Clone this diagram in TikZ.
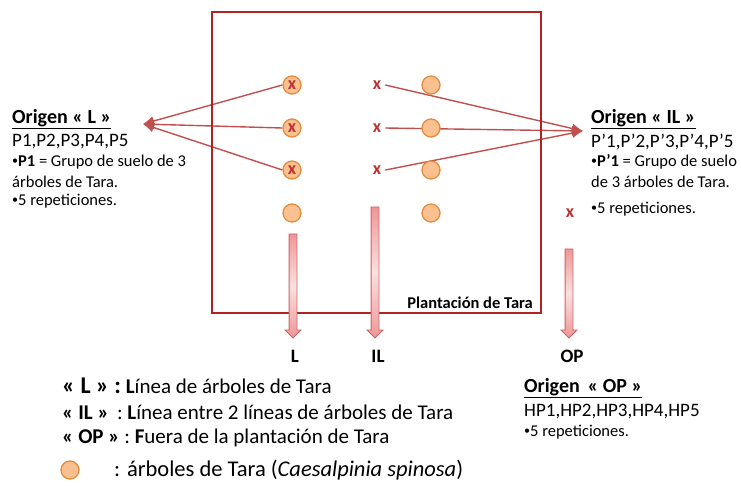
\documentclass[tikz,border=0pt]{standalone}
\usepackage{fontspec}
\setmainfont{Carlito}
\usetikzlibrary{positioning,arrows.meta,shapes.arrows,backgrounds}

\definecolor{plotred}{RGB}{178,34,34}
\definecolor{linkred}{RGB}{192,80,77}
\definecolor{treefill}{RGB}{250,192,144}
\definecolor{treedraw}{RGB}{228,140,60}
\definecolor{markred}{RGB}{192,50,50}
\definecolor{arrpink}{RGB}{240,150,150}
\definecolor{arrdraw}{RGB}{200,100,100}

\newcommand{\sbul}{\raisebox{1.8pt}{\fontsize{12}{12}\selectfont•}}

\begin{document}
\begin{tikzpicture}[x=1pt,y=-1pt,
    tree/.style={circle, draw=treedraw, line width=1.3pt, fill=treefill, minimum size=18pt, inner sep=0pt},
    xmark/.style={text=markred, font=\bfseries\fontsize{18}{18}\selectfont, inner sep=0pt},
    link/.style={draw=linkred, line width=1.4pt, -{Latex[length=11pt,width=10pt]}},
    bigarrow/.style={single arrow, draw=arrdraw, line width=0.8pt, top color=arrpink, bottom color=arrpink, middle color=white!70!arrpink,
        single arrow head extend=4pt, single arrow head indent=0pt, inner xsep=0pt, inner ysep=3.5pt, rotate=-90},
    txt/.style={anchor=west, inner sep=0pt, font=\fontsize{16.5}{20}\selectfont},
    ptxt/.style={anchor=west, inner sep=0pt, font=\fontsize{19}{20}\selectfont},
    title/.style={anchor=west, inner sep=0pt, font=\bfseries\fontsize{20}{22}\selectfont},
    legend/.style={anchor=west, inner sep=0pt, font=\fontsize{21}{21}\selectfont},
    lbl/.style={font=\bfseries\fontsize{19}{19}\selectfont, inner sep=0pt}]
    \useasboundingbox (0,0) rectangle (741,485);

    % plantation
    \draw[plotred, line width=1.5pt] (212,12) rectangle (541,313);
    \node[anchor=south east, inner sep=0pt, font=\bfseries\fontsize{16.5}{16.5}\selectfont] (plant) at (533,309) {Plantación de Tara};

    % trees and sampling points
    \foreach \y [count=\i] in {85,128,170,213} {
        \node[tree] (a\i) at (292,\y) {};
        \node[tree] (b\i) at (431,\y) {};
    }
    \foreach \y [count=\i] in {85,128,170} {
        \node[xmark] (ax\i) at (a\i) {x};
        \node[xmark] (xm\i) at (377,\y) {x};
    }
    \node[xmark] (op) at (570,213) {x};

    \coordinate (origL)  at (143,124);
    \coordinate (origIL) at (583,131);

    \begin{pgfonlayer}{background}
        \foreach \i in {1,2,3} {
            \draw[link] (a\i.west) -- (origL);
            \draw[link] ([xshift=4pt]xm\i.east) -- (origIL);
        }
    \end{pgfonlayer}

    % transects
    \node[bigarrow, minimum height=104pt] (arrL)  at (293,284)   {};
    \node[bigarrow, minimum height=131pt] (arrIL) at (375,270.5) {};
    \node[bigarrow, minimum height=89pt]  (arrOP) at (569,291.5) {};
    \node[lbl] (L)  at (295,356) {L};
    \node[lbl] (IL) at (378,356) {IL};
    \node[lbl] (OP) at (572,356) {OP};

    % origin L
    \node[title] (tL) at (12,119) {\underline{Origen « L »}};
    \node[ptxt] (pL)  at (12,142) {P1,P2,P3,P4,P5};
    \node[txt] (pL1) at (12,162) {\sbul\textbf{P1} = Grupo de suelo de 3};
    \node[txt] (pL2) at (12,182) {árboles de Tara.};
    \node[txt] (pL3) at (12,201) {\sbul5 repeticiones.};

    % origin IL
    \node[title] (tIL) at (591,119) {\underline{Origen « IL »}};
    \node[ptxt] (pI)  at (591,142) {P’1,P’2,P’3,P’4,P’5};
    \node[txt] (pI1) at (591,162) {\sbul\textbf{P’1} = Grupo de suelo};
    \node[txt] (pI2) at (591,182) {de 3 árboles de Tara.};
    \node[txt] (pI3) at (591,209) {\sbul5 repeticiones.};

    % origin OP
    \node[title] (tOP) at (524,388) {\underline{Origen \,« OP »}};
    \node[ptxt] (pO)  at (524,412) {HP1,HP2,HP3,HP4,HP5};
    \node[txt] (pO1) at (524,432) {\sbul5 repeticiones.};

    % legend
    \node[legend] (g1) at (62,386) {{\bfseries\fontsize{24}{24}\selectfont « L » :} \textbf{L}ínea de árboles de Tara};
    \node[legend] (g2) at (62,412) {\textbf{« IL »} \,: \textbf{L}ínea entre 2 líneas de árboles de Tara};
    \node[legend] (g3) at (62,438) {\textbf{« OP »} : \textbf{F}uera de la plantación de Tara};
    \node[tree] (g4) at (70,470) {};
    \node[legend, font=\fontsize{22.5}{22.5}\selectfont] (g5) at (114,470) {: árboles de Tara (\textit{Caesalpinia spinosa})};
\end{tikzpicture}
\end{document}
